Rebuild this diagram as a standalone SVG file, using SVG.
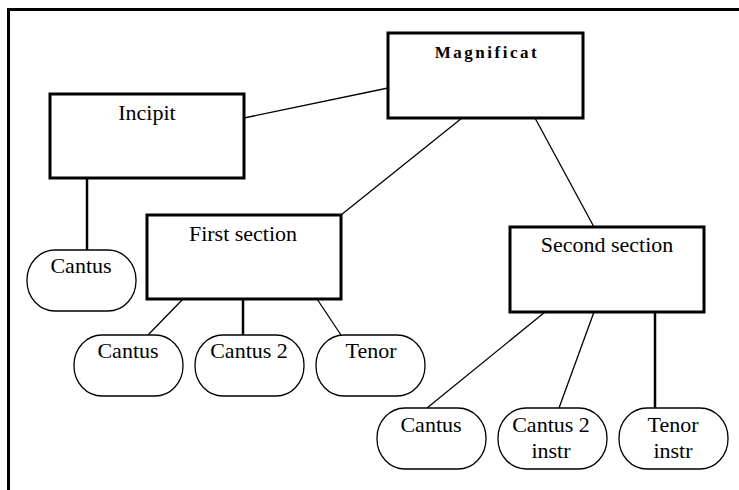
<svg xmlns="http://www.w3.org/2000/svg" width="739" height="490" viewBox="0 0 739 490">
<style>
.frame{fill:none;stroke:#000;stroke-width:3}
.box{fill:#fff;stroke:#000;stroke-width:3}
.pill{fill:#fff;stroke:#000;stroke-width:1.3}
.thin{stroke:#000;stroke-width:1.3;fill:none}
.thick{stroke:#000;stroke-width:2.5;fill:none}
.t{font-family:'Liberation Serif','Times New Roman',Times,serif;font-size:22px;fill:#000;text-anchor:middle}
.title{font-weight:bold;font-size:17px;letter-spacing:2.5px}
</style>
<rect width="739" height="490" fill="#fff"/>
<path class="frame" d="M8.5,490 V9.5 H739"/>
<g id="connectors">
<line class="thin" x1="244" y1="118" x2="388" y2="88"/>
<line class="thin" x1="341" y1="215" x2="462" y2="118"/>
<line class="thin" x1="535" y1="118" x2="594" y2="227"/>
<line class="thick" x1="87" y1="178" x2="87" y2="250"/>
<line class="thin" x1="183" y1="299" x2="148" y2="335"/>
<line class="thick" x1="243" y1="299" x2="243" y2="335"/>
<line class="thin" x1="317" y1="299" x2="341" y2="335"/>
<line class="thin" x1="545" y1="312" x2="427" y2="408"/>
<line class="thin" x1="594" y1="312" x2="559" y2="408"/>
<line class="thick" x1="655" y1="312" x2="655" y2="408"/>
</g>
<g id="magnificat">
<rect class="box" x="388" y="33" width="195" height="85"/>
<text class="t title" font-family="Liberation Serif, serif" x="487" y="58">Magnificat</text>
</g>
<g id="incipit">
<rect class="box" x="50" y="94" width="194" height="84"/>
<text class="t" font-family="Liberation Serif, serif" x="147" y="120">Incipit</text>
</g>
<g id="first-section">
<rect class="box" x="147" y="215" width="194" height="84"/>
<text class="t" font-family="Liberation Serif, serif" x="243" y="241">First section</text>
</g>
<g id="second-section">
<rect class="box" x="510" y="227" width="194" height="85"/>
<text class="t" font-family="Liberation Serif, serif" x="607" y="252">Second section</text>
</g>
<g id="incipit-cantus">
<rect class="pill" x="27" y="250" width="109" height="61" rx="28" ry="30"/>
<text class="t" font-family="Liberation Serif, serif" x="81" y="273">Cantus</text>
</g>
<g id="first-cantus">
<rect class="pill" x="74" y="335" width="109" height="61" rx="28" ry="30"/>
<text class="t" font-family="Liberation Serif, serif" x="128" y="358">Cantus</text>
</g>
<g id="first-cantus2">
<rect class="pill" x="195" y="335" width="109" height="61" rx="28" ry="30"/>
<text class="t" font-family="Liberation Serif, serif" x="249" y="358">Cantus 2</text>
</g>
<g id="first-tenor">
<rect class="pill" x="316" y="335" width="109" height="61" rx="28" ry="30"/>
<text class="t" font-family="Liberation Serif, serif" x="371" y="358">Tenor</text>
</g>
<g id="second-cantus">
<rect class="pill" x="377" y="408" width="109" height="61" rx="28" ry="30"/>
<text class="t" font-family="Liberation Serif, serif" x="431" y="432">Cantus</text>
</g>
<g id="second-cantus2">
<rect class="pill" x="498" y="408" width="109" height="61" rx="28" ry="30"/>
<text class="t" font-family="Liberation Serif, serif" x="551" y="432">Cantus 2</text>
<text class="t" font-family="Liberation Serif, serif" x="551" y="458">instr</text>
</g>
<g id="second-tenor">
<rect class="pill" x="619" y="408" width="109" height="61" rx="28" ry="30"/>
<text class="t" font-family="Liberation Serif, serif" x="673" y="432">Tenor</text>
<text class="t" font-family="Liberation Serif, serif" x="673" y="458">instr</text>
</g>
</svg>
